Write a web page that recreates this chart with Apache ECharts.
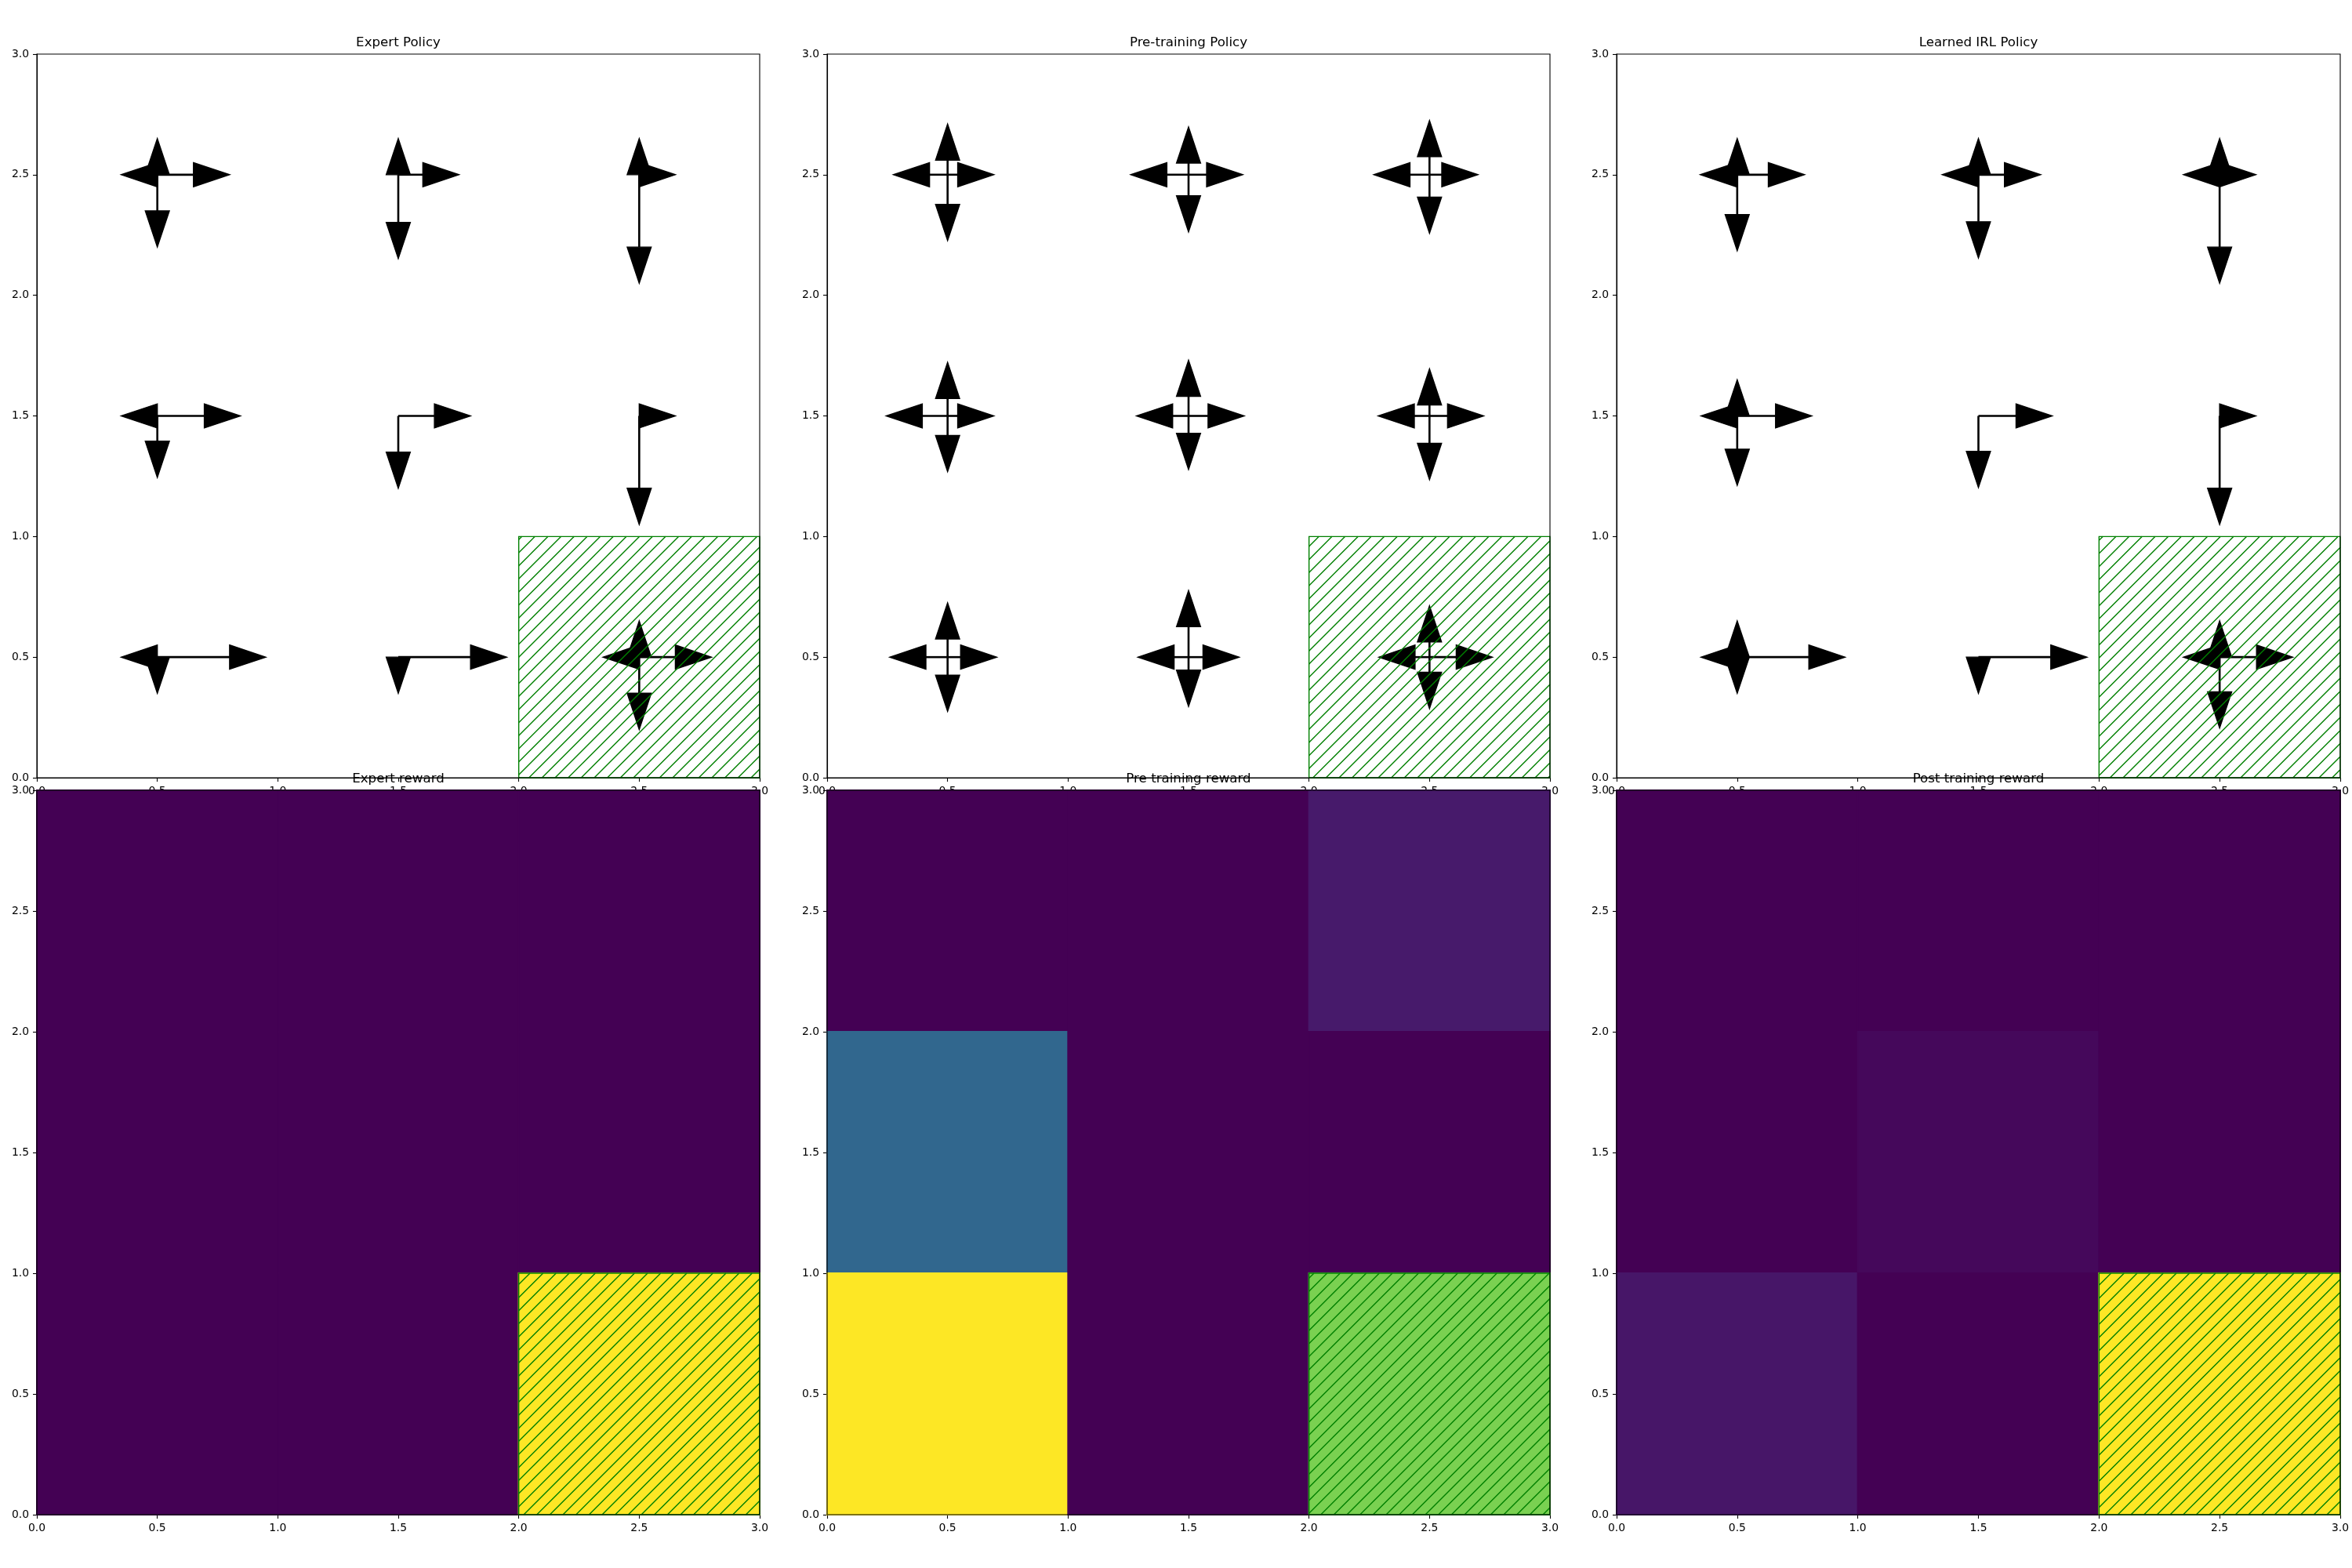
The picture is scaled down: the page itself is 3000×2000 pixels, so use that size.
<!DOCTYPE html>
<html>
<head>
<meta charset="utf-8">
<script src="https://cdn.jsdelivr.net/npm/echarts@6/dist/echarts.min.js"></script>
<style>
html,body{margin:0;padding:0;background:#fff;}
#chart{width:3000px;height:2000px;}
</style>
</head>
<body>
<div id="chart"></div>
<script>
// ---------------- DATA ----------------
// Policy: rows listed top (y=2.5) to bottom (y=0.5); each cell = [up, right, down, left] probability (null = no arrow)
const expertPolicy = [
  [[0, 0.50, 0.50, 0],    [0, 0.34, 0.66, null], [0, 0, 1.00, null]],
  [[null, 0.65, 0.35, 0], [null, 0.50, 0.50, null], [null, 0, 1.00, null]],
  [[null, 1.00, 0, 0],    [null, 1.00, 0, null], [0, 0.50, 0.50, 0]]
];
const preTrainingPolicy = [
  [[0.20, 0.14, 0.41, 0.25], [0.16, 0.25, 0.29, 0.30], [0.25, 0.17, 0.31, 0.27]],
  [[0.24, 0.14, 0.27, 0.35], [0.27, 0.27, 0.24, 0.22], [0.15, 0.25, 0.38, 0.21]],
  [[0.25, 0.18, 0.25, 0.30], [0.42, 0.20, 0.18, 0.20], [0.21, 0.37, 0.21, 0.20]]
];
const learnedPolicy = [
  [[0, 0.43, 0.55, 0.01], [0, 0.36, 0.65, 0], [0, 0, 1.00, 0]],
  [[0, 0.53, 0.46, 0],    [null, 0.52, 0.49, null], [null, 0, 1.00, null]],
  [[0, 0.99, 0, 0],       [null, 1.00, 0, null], [0, 0.51, 0.48, 0]]
];
// Rewards: rows top (y in [2,3]) to bottom (y in [0,1])
const expertReward = [[0, 0, 0], [0, 0, 0], [0, 0, 1]];
const preTrainingReward = [[0, 0, 0.07], [0.33, 0, 0], [1, 0, 0.8]];
const postTrainingReward = [[0, 0, 0], [0, 0.02, 0], [0.06, 0, 1]];
// Goal cell (lower-left corner in grid units)
const goalCell = [2, 0];

const policyTitles = ['Expert Policy', 'Pre-training Policy', 'Learned IRL Policy'];
const rewardTitles = ['Expert reward', 'Pre training reward', 'Post training reward'];
const tickValues = [0, 0.5, 1.0, 1.5, 2.0, 2.5, 3.0];

// ---------------- STYLE / LAYOUT ----------------
const ARROW_SCALE = 0.3, HEAD_LEN = 0.15, HEAD_W = 0.1;
const DIRS = [[0, 1], [1, 0], [0, -1], [-1, 0]];
const VIRIDIS = ['#440154','#471365','#482475','#463480','#414487','#3b528b','#355f8d','#2f6c8e','#2a788e','#25848e','#21918c','#1e9c89','#22a884','#2fb47c','#44bf70','#5ec962','#7ad151','#9bd93c','#bddf26','#dfe318','#fde725'];
const FONT = 'DejaVu Sans';
const HATCH_STEP = 100 / 6;
const gridPos = [
  {left: 47, top: 69, width: 922, height: 923},
  {left: 1055, top: 69, width: 922, height: 923},
  {left: 2062, top: 69, width: 923, height: 923},
  {left: 47, top: 1008, width: 922, height: 924},
  {left: 1055, top: 1008, width: 922, height: 924},
  {left: 2062, top: 1008, width: 923, height: 924}
];

const chart = echarts.init(document.getElementById('chart'), null, {renderer: 'canvas'});

function policyData(pol) {
  const out = [];
  pol.forEach((row, r) => row.forEach((cell, c) => cell.forEach((p, d) => {
    if (p !== null) out.push([c + 0.5, 2.5 - r, d, p]);
  })));
  return out;
}
function rewardData(rew) {
  const out = [];
  rew.forEach((row, r) => row.forEach((v, c) => out.push([c, 2 - r, v])));
  return out;
}

function arrowRender(params, api) {
  const x = api.value(0), y = api.value(1), d = api.value(2), p = api.value(3);
  const u = DIRS[d];
  const s = p * ARROW_SCALE;
  const bx = x + u[0] * s, by = y + u[1] * s;
  const tx = bx + u[0] * HEAD_LEN, ty = by + u[1] * HEAD_LEN;
  const px = -u[1], py = u[0];
  const c = api.coord([x, y]), b = api.coord([bx, by]), t = api.coord([tx, ty]);
  const b1 = api.coord([bx + px * HEAD_W / 2, by + py * HEAD_W / 2]);
  const b2 = api.coord([bx - px * HEAD_W / 2, by - py * HEAD_W / 2]);
  const children = [];
  if (s > 0) {
    children.push({type: 'line', shape: {x1: c[0], y1: c[1], x2: b[0], y2: b[1]},
      style: {stroke: '#000', lineWidth: 2.6}});
  }
  children.push({type: 'polygon', shape: {points: [b1, t, b2]},
    style: {fill: '#000', stroke: '#000', lineWidth: 1.4, lineJoin: 'miter'}});
  return {type: 'group', children};
}

function cellRender(params, api) {
  const xi = api.value(0), yi = api.value(1);
  const p0 = api.coord([xi, yi + 1]), p1 = api.coord([xi + 1, yi]);
  const col = api.visual('color');
  return {type: 'rect', shape: {x: p0[0], y: p0[1], width: p1[0] - p0[0], height: p1[1] - p0[1]},
    style: {fill: col, stroke: col, lineWidth: 2}};
}

function hatchRender(params, api) {
  const gx = api.value(0), gy = api.value(1);
  const p0 = api.coord([gx, gy + 1]), p1 = api.coord([gx + 1, gy]);
  const x0 = p0[0], y0 = p0[1], x1 = p1[0], y1 = p1[1];
  const children = [];
  // "/" lines: x + y = const, anchored to figure bottom-left
  const base = 2000;
  let k0 = Math.ceil((x0 + y0 - base) / HATCH_STEP);
  let k1 = Math.floor((x1 + y1 - base) / HATCH_STEP);
  for (let k = k0; k <= k1; k++) {
    const cst = base + k * HATCH_STEP;
    const xa = Math.max(x0, cst - y1), xb = Math.min(x1, cst - y0);
    if (xb <= xa) continue;
    children.push({type: 'line', shape: {x1: xa, y1: cst - xa, x2: xb, y2: cst - xb},
      style: {stroke: '#008000', lineWidth: 1.4}});
  }
  children.push({type: 'rect', shape: {x: x0, y: y0, width: x1 - x0, height: y1 - y0},
    style: {fill: 'none', stroke: '#008000', lineWidth: 1.4}});
  return {type: 'group', children};
}

const grids = gridPos.map(g => Object.assign({show: true, borderColor: '#000', borderWidth: 1.1, z: 5, backgroundColor: 'transparent'}, g));

function axisCommon(i, isX) {
  return {
    type: 'value', gridIndex: i, min: 0, max: 3, interval: 0.5,
    axisLine: {show: true, onZero: false, lineStyle: {color: '#000', width: 1.1}},
    axisTick: {show: true, inside: false, length: 5, lineStyle: {color: '#000', width: 1.1}},
    splitLine: {show: false},
    axisLabel: {show: true, margin: 10, color: '#000', fontFamily: FONT, fontSize: 13.9,
      showMinLabel: true, showMaxLabel: true,
      formatter: v => Number(v).toFixed(1)}
  };
}
const xAxes = [], yAxes = [];
for (let i = 0; i < 6; i++) { xAxes.push(axisCommon(i, true)); yAxes.push(axisCommon(i, false)); }

const policies = [expertPolicy, preTrainingPolicy, learnedPolicy];
const rewards = [expertReward, preTrainingReward, postTrainingReward];

const series = [];
policies.forEach((pol, i) => series.push({
  type: 'custom', xAxisIndex: i, yAxisIndex: i, renderItem: arrowRender,
  data: policyData(pol), encode: {x: 0, y: 1}, z: 2, silent: true
}));
for (let i = 0; i < 3; i++) series.push({
  type: 'custom', xAxisIndex: i, yAxisIndex: i, renderItem: hatchRender,
  data: [goalCell], encode: {x: 0, y: 1}, z: 3, silent: true
});
rewards.forEach((rew, i) => series.push({
  type: 'custom', xAxisIndex: 3 + i, yAxisIndex: 3 + i, renderItem: cellRender,
  data: rewardData(rew), encode: {x: 0, y: 1}, z: 2, silent: true
}));
for (let i = 0; i < 3; i++) series.push({
  type: 'custom', xAxisIndex: 3 + i, yAxisIndex: 3 + i, renderItem: hatchRender,
  data: [goalCell], encode: {x: 0, y: 1}, z: 3, silent: true
});

const visualMaps = rewards.map((rew, i) => {
  const flat = rew.flat();
  return {type: 'continuous', show: false, seriesIndex: 6 + i, dimension: 2,
    min: Math.min(...flat), max: Math.max(...flat), inRange: {color: VIRIDIS}};
});

const titles = [];
policyTitles.concat(rewardTitles).forEach((t, i) => {
  const g = gridPos[i];
  titles.push({type: 'text', x: g.left + g.width / 2, y: g.top - 14, z: 10,
    style: {text: t, fill: '#000', font: '16.67px "DejaVu Sans"', textAlign: 'center', textVerticalAlign: 'middle'}});
});

chart.setOption({
  backgroundColor: '#fff',
  animation: false,
  grid: grids,
  xAxis: xAxes,
  yAxis: yAxes,
  visualMap: visualMaps,
  series: series,
  graphic: titles
});
</script>
</body>
</html>
